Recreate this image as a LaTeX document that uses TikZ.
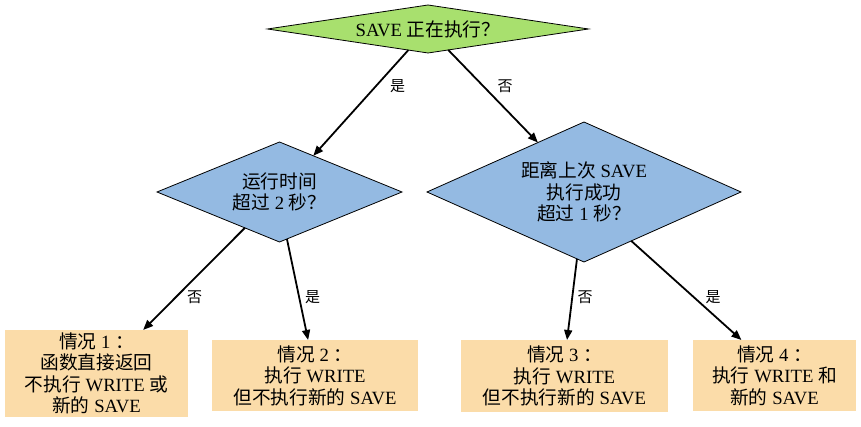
\documentclass[tikz,border=0pt]{standalone}
\usepackage{fontspec}
\setmainfont{Liberation Serif}
\newfontfamily\zhfontfam{Noto Sans CJK SC}
\newcommand{\zhs}[1]{{\zhfontfam #1}}
\usetikzlibrary{shapes.geometric,arrows.meta}
\definecolor{dgreen}{RGB}{168,224,110}
\definecolor{dblue}{RGB}{148,186,226}
\definecolor{dorange}{RGB}{251,220,169}
\tikzset{
  txt/.style={font=\fontsize{18.7}{21.5}\selectfont, align=center},
  dia/.style={txt, shape=diamond, draw=black, line width=0.8pt, inner sep=0pt, outer sep=0pt},
  casebox/.style={txt, fill=dorange, draw=none, inner sep=0pt, outer sep=0pt},
  conn/.style={line width=1.8pt, -{Triangle[length=10pt,width=8pt]}},
  elab/.style={font=\fontsize{15}{17}\selectfont, inner sep=0pt}
}
\begin{document}
\begin{tikzpicture}[x=1pt,y=1pt]
\useasboundingbox (0,0) rectangle (861,427);
\node[dia, fill=dgreen, aspect=6.7, minimum width=321pt, minimum height=48pt] (top) at (428,398) {SAVE \zhs{正在执行？}};
\node[dia, fill=dblue, aspect=2.45, minimum width=245pt, minimum height=100pt] (left) at (279.5,235) {\zhs{运行时间}\\\zhs{超过} 2 \zhs{秒？}};
\node[dia, fill=dblue, aspect=2.24, minimum width=314pt, minimum height=140pt] (right) at (584,235) {\zhs{距离上次} SAVE\\\zhs{执行成功}\\\zhs{超过} 1 \zhs{秒？}};
\node[casebox, minimum width=183pt, minimum height=87pt] (c1) at (96.5,53.5) {\zhs{情况} 1 \zhs{：}\\\zhs{函数直接返回}\\\zhs{不执行} WRITE \zhs{或}\\\zhs{新的} SAVE};
\node[casebox, minimum width=206pt, minimum height=71pt] (c2) at (315,51.5) {\zhs{情况} 2 \zhs{：}\\\zhs{执行} WRITE\\\zhs{但不执行新的} SAVE};
\node[casebox, minimum width=207pt, minimum height=72pt] (c3) at (564.5,51) {\zhs{情况} 3 \zhs{：}\\\zhs{执行} WRITE\\\zhs{但不执行新的} SAVE};
\node[casebox, minimum width=163pt, minimum height=71pt] (c4) at (774.5,51.5) {\zhs{情况} 4 \zhs{：}\\\zhs{执行} WRITE \zhs{和}\\\zhs{新的} SAVE};
\draw[conn] (top.227.9) -- (left.47.9);
\draw[conn] (top.-46.4) -- (right.133.2);
\draw[conn] (left.226.2) -- (c1.43.1);
\draw[conn] (left.-81.3) -- (c2.101.2);
\draw[conn] (right.264.1) -- (c3.86);
\draw[conn] (right.-46.9) -- (c4.133.3);
\node[elab] (l1) at (397.5,341) {\zhs{是}};
\node[elab] (l2) at (505,341) {\zhs{否}};
\node[elab] (l3) at (194.5,130) {\zhs{否}};
\node[elab] (l4) at (312.5,130) {\zhs{是}};
\node[elab] (l5) at (585,130) {\zhs{否}};
\node[elab] (l6) at (713,130) {\zhs{是}};
\end{tikzpicture}
\end{document}
